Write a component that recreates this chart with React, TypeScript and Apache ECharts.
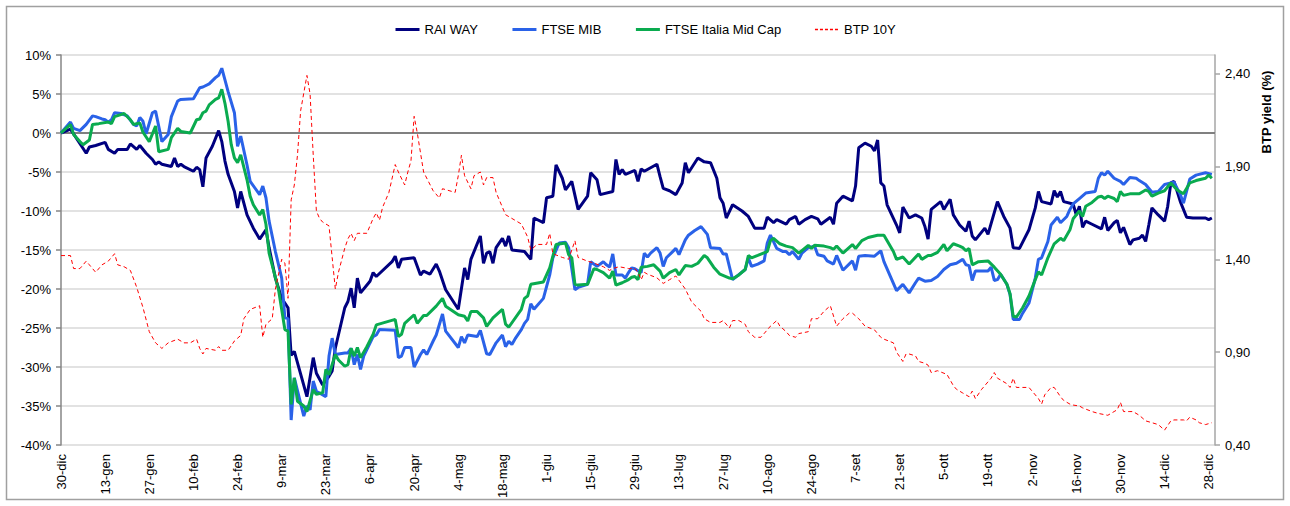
import React, { useEffect, useRef } from 'react';
import * as echarts from 'echarts';

// x values are calendar days counted from 30-dic-2019
const xTickLabels = ['30-dic','13-gen','27-gen','10-feb','24-feb','9-mar','23-mar','6-apr','20-apr','4-mag','18-mag','1-giu','15-giu','29-giu','13-lug','27-lug','10-ago','24-ago','7-set','21-set','5-ott','19-ott','2-nov','16-nov','30-nov','14-dic','28-dic'];
const seriesNames = ['RAI WAY', 'FTSE MIB', 'FTSE Italia Mid Cap', 'BTP 10Y'];

const raiWay: number[][] = [[0,0],[3,0.5],[8,-2.6],[9,-1.8],[11,-1.6],[14,-1.2],[15,-2.1],[17,-2.6],[18,-2.1],[21,-2.1],[22,-1.4],[24,-2.1],[25,-1.6],[27,-2.6],[29,-3.4],[30,-4.0],[31,-3.7],[32,-4.0],[35,-4.3],[36,-3.2],[37,-4.3],[38,-4.0],[39,-4.3],[42,-4.9],[43,-4.4],[44,-4.7],[45,-6.9],[46,-3.2],[48,-1.7],[50,0.3],[51,-1.1],[52,-3.6],[53,-5.3],[55,-7.5],[56,-9.6],[57,-7.5],[59,-10.5],[61,-12.2],[63,-13.6],[65,-12.4],[66,-14.7],[68,-18.6],[70,-21.2],[72,-22.4],[73,-28.5],[74,-28.0],[78,-33.8],[80,-28.8],[81,-30.8],[83,-32.3],[85,-31.2],[86,-30.5],[87,-27.6],[90,-22.4],[91,-21.6],[92,-19.9],[93,-22.4],[94,-18.6],[95,-20.5],[98,-19.0],[99,-17.9],[100,-18.4],[105,-16.5],[106,-15.8],[107,-17.3],[108,-16.2],[112,-16.0],[114,-18.2],[115,-17.7],[117,-18.1],[119,-16.8],[120,-17.7],[122,-20.1],[126,-22.6],[128,-17.3],[129,-18.8],[130,-16.2],[133,-13.2],[134,-16.7],[135,-15.4],[136,-15.2],[137,-16.7],[138,-14.7],[140,-13.5],[141,-14.5],[142,-13.2],[143,-15.0],[147,-15.2],[149,-16.2],[150,-10.9],[153,-11.5],[154,-8.3],[156,-8.1],[157,-4.1],[159,-5.8],[160,-7.3],[162,-6.2],[164,-9.8],[167,-8.1],[168,-5.1],[170,-6.0],[171,-7.9],[175,-7.5],[176,-3.4],[177,-5.3],[178,-4.7],[179,-5.3],[182,-4.8],[183,-6.2],[184,-4.6],[185,-4.9],[189,-4.0],[190,-5.6],[191,-7.1],[193,-7.4],[195,-7.9],[197,-6.4],[198,-3.8],[199,-5.1],[202,-3.2],[204,-3.7],[206,-3.8],[208,-5.8],[209,-8.3],[210,-9.0],[211,-10.9],[213,-9.2],[216,-10.0],[218,-10.7],[220,-12.2],[223,-12.2],[224,-10.8],[226,-11.5],[227,-11.1],[229,-11.5],[230,-11.7],[231,-11.1],[233,-10.7],[234,-11.7],[236,-11.1],[238,-10.7],[240,-11.0],[241,-11.7],[244,-10.8],[245,-11.7],[246,-9.0],[248,-8.1],[251,-8.7],[252,-6.8],[253,-1.9],[255,-1.3],[257,-1.7],[258,-2.3],[259,-0.9],[260,-6.4],[261,-6.8],[262,-9.2],[265,-11.8],[266,-12.8],[267,-9.5],[269,-10.9],[271,-10.5],[273,-10.9],[274,-12.0],[275,-13.6],[276,-9.8],[279,-8.8],[280,-9.8],[282,-8.5],[283,-10.5],[285,-11.8],[287,-12.6],[288,-11.3],[289,-13.2],[290,-13.7],[293,-12.2],[294,-13.0],[297,-8.8],[299,-10.7],[301,-12.2],[302,-14.7],[304,-14.8],[307,-12.4],[309,-9.6],[310,-7.5],[311,-8.8],[314,-9.1],[315,-7.4],[316,-8.2],[317,-7.5],[318,-8.8],[321,-9.1],[322,-10.5],[323,-9.4],[324,-12.1],[325,-11.3],[327,-11.7],[330,-12.3],[331,-10.8],[332,-12.5],[334,-11.5],[335,-11.2],[336,-12.8],[337,-12.1],[339,-14.3],[340,-13.7],[342,-13.5],[343,-13.1],[344,-13.9],[345,-11.8],[346,-9.6],[348,-10.5],[350,-11.3],[351,-9.4],[352,-6.4],[353,-6.2],[355,-8.8],[357,-10.8],[359,-10.9],[361,-10.9],[363,-10.9],[364,-11.1],[365,-10.9]];

const ftseMib: number[][] = [[0,0],[3,1.4],[4,0.6],[6,0.3],[8,1.1],[10,2.2],[11,2.1],[13,1.8],[14,1.7],[15,1.4],[16,1.7],[17,2.6],[19,2.5],[21,2.2],[23,1.1],[24,0.9],[25,2.0],[26,1.5],[27,-0.1],[29,2.6],[30,2.8],[32,-1.1],[34,-0.2],[35,2.1],[37,4.1],[38,4.3],[42,4.4],[44,5.8],[45,5.9],[47,6.3],[49,7.1],[50,7.4],[51,8.3],[52,6.8],[53,5.3],[55,2.6],[56,-1.7],[57,-0.4],[59,-4.1],[60,-6.2],[63,-7.9],[64,-6.8],[65,-8.3],[66,-11.3],[68,-15.2],[70,-18.6],[71,-23.7],[72,-23.8],[73,-36.8],[74,-31.4],[77,-36.3],[78,-35.0],[79,-35.5],[80,-31.8],[81,-33.1],[84,-33.8],[85,-28.6],[86,-26.3],[87,-28.4],[90,-28.2],[91,-28.2],[92,-27.6],[93,-29.7],[94,-28.4],[95,-30.3],[96,-28.6],[99,-26.1],[100,-25.9],[101,-25.2],[106,-25.3],[107,-28.8],[108,-28.6],[109,-27.5],[111,-27.5],[112,-30.0],[114,-28.4],[115,-27.8],[116,-28.4],[118,-26.7],[119,-25.9],[121,-23.2],[122,-25.4],[126,-27.5],[127,-26.1],[128,-26.9],[129,-25.9],[132,-26.1],[133,-25.3],[135,-28.3],[136,-28.4],[138,-26.9],[140,-25.9],[141,-27.4],[142,-26.7],[143,-27.1],[144,-26.4],[146,-25.2],[147,-24.4],[148,-23.9],[149,-21.9],[150,-22.6],[153,-21.2],[155,-18.2],[156,-16.0],[158,-14.1],[160,-14.0],[161,-14.7],[163,-20.1],[164,-19.8],[167,-19.4],[168,-16.5],[170,-17.1],[172,-16.5],[173,-16.9],[174,-17.2],[175,-15.5],[176,-18.2],[178,-18.2],[179,-18.6],[180,-17.9],[181,-17.3],[182,-17.4],[184,-17.9],[185,-15.4],[186,-15.9],[187,-15.4],[189,-14.7],[190,-15.4],[191,-17.1],[192,-16.0],[194,-15.2],[195,-14.8],[196,-15.6],[198,-13.7],[199,-13.1],[201,-12.5],[203,-12.0],[205,-13.0],[206,-14.7],[209,-14.8],[210,-15.5],[211,-15.5],[213,-18.8],[217,-17.5],[218,-16.0],[219,-17.1],[221,-16.8],[223,-16.4],[224,-14.1],[225,-13.1],[227,-14.8],[229,-15.2],[230,-15.2],[231,-15.6],[232,-15.2],[234,-16.2],[235,-15.4],[237,-14.7],[239,-14.5],[240,-15.6],[242,-15.8],[243,-16.4],[245,-16.8],[246,-15.7],[248,-17.6],[251,-16.4],[252,-17.6],[253,-15.8],[255,-15.7],[258,-15.8],[260,-15.1],[261,-16.5],[265,-20.2],[267,-19.4],[269,-20.5],[271,-19.2],[272,-18.6],[274,-19.0],[276,-18.9],[278,-18.4],[280,-17.5],[282,-16.9],[284,-16.7],[286,-16.2],[287,-16.9],[288,-17.0],[289,-18.9],[290,-17.7],[294,-17.7],[295,-17.2],[296,-18.9],[297,-18.8],[298,-18.1],[300,-19.4],[301,-20.7],[302,-23.9],[304,-23.9],[305,-23.1],[307,-21.8],[309,-18.6],[310,-16.2],[311,-16.0],[313,-13.9],[314,-11.8],[316,-10.8],[317,-11.5],[319,-10.7],[320,-9.8],[321,-9.1],[323,-8.4],[325,-7.7],[328,-7.5],[329,-5.8],[330,-5.1],[331,-5.4],[332,-4.9],[334,-5.8],[336,-6.2],[337,-6.6],[339,-5.7],[341,-5.8],[342,-6.1],[344,-6.6],[346,-7.6],[348,-7.5],[350,-6.6],[353,-6.3],[355,-7.9],[356,-9.0],[358,-5.9],[360,-5.4],[363,-5.1],[365,-5.3]];

const ftseMidCap: number[][] = [[0,0],[3,1.1],[4,-0.2],[6,-1.1],[7,-1.5],[9,-0.9],[10,1.1],[12,1.2],[15,1.4],[16,1.2],[17,2.1],[20,2.5],[22,1.7],[23,1.1],[25,1.3],[26,0.1],[28,-1.1],[30,0.9],[31,-2.4],[34,-2.1],[35,-0.6],[37,0.6],[38,0.2],[41,0.0],[43,1.7],[44,1.8],[45,2.6],[46,2.8],[47,3.6],[49,4.3],[50,4.5],[51,5.6],[52,3.8],[53,1.5],[54,-1.5],[55,-3.2],[56,-3.8],[57,-2.8],[59,-6.0],[60,-8.1],[61,-9.2],[63,-10.5],[64,-9.8],[65,-11.7],[66,-15.4],[69,-20.1],[71,-25.2],[72,-25.4],[73,-34.8],[74,-31.4],[75,-34.4],[77,-35.0],[78,-35.7],[80,-32.9],[81,-33.5],[83,-33.3],[84,-30.3],[85,-31.0],[87,-28.4],[88,-29.1],[90,-29.9],[91,-29.7],[92,-27.6],[93,-28.6],[94,-27.5],[95,-28.8],[97,-27.4],[99,-25.8],[100,-24.6],[106,-23.9],[107,-26.1],[108,-25.8],[109,-24.4],[112,-23.3],[113,-24.4],[115,-23.4],[116,-23.4],[119,-22.2],[121,-21.2],[122,-22.2],[126,-23.3],[128,-23.5],[129,-24.1],[130,-22.9],[132,-22.9],[134,-23.7],[135,-24.8],[137,-23.7],[140,-22.6],[141,-24.5],[142,-24.9],[146,-22.6],[147,-21.2],[148,-20.9],[149,-19.4],[153,-19.1],[155,-17.3],[156,-15.8],[157,-14.3],[160,-14.1],[161,-15.6],[162,-16.0],[163,-19.4],[164,-19.5],[167,-19.4],[169,-17.4],[170,-17.5],[172,-17.9],[174,-18.6],[175,-17.7],[176,-19.5],[178,-19.2],[180,-18.8],[181,-18.5],[182,-18.4],[183,-18.8],[184,-17.2],[186,-17.1],[188,-16.9],[190,-17.7],[191,-18.6],[193,-17.9],[195,-17.5],[196,-18.2],[198,-17.0],[200,-17.1],[202,-16.7],[204,-15.7],[205,-16.0],[207,-17.2],[209,-18.1],[212,-18.6],[213,-18.7],[215,-18.2],[217,-17.5],[218,-15.7],[219,-16.0],[221,-15.7],[224,-15.2],[225,-13.8],[226,-13.5],[228,-14.2],[230,-14.5],[232,-14.7],[234,-15.4],[237,-14.4],[238,-14.8],[239,-14.4],[242,-14.5],[244,-14.7],[245,-14.9],[246,-14.5],[248,-15.4],[251,-14.3],[252,-14.8],[254,-13.8],[256,-13.4],[259,-13.1],[261,-13.1],[264,-15.2],[265,-16.2],[267,-15.9],[269,-16.8],[272,-15.5],[273,-16.2],[275,-15.7],[276,-15.7],[278,-15.3],[280,-14.3],[281,-15.1],[283,-14.2],[285,-14.5],[286,-14.7],[287,-15.1],[288,-14.8],[289,-16.9],[291,-16.5],[294,-16.4],[296,-17.2],[298,-18.1],[300,-19.4],[301,-20.6],[302,-23.5],[303,-23.6],[305,-22.4],[307,-20.9],[309,-18.8],[310,-17.8],[311,-18.2],[313,-16.0],[315,-14.2],[317,-13.5],[318,-13.8],[320,-12.4],[321,-11.0],[323,-10.0],[324,-10.7],[325,-9.4],[327,-8.9],[329,-8.2],[330,-8.1],[331,-8.4],[332,-8.1],[334,-8.4],[335,-8.8],[336,-7.5],[337,-8.0],[339,-7.8],[342,-7.8],[344,-7.3],[345,-7.5],[346,-8.1],[348,-7.7],[350,-7.4],[352,-6.4],[354,-7.3],[356,-7.8],[358,-6.4],[360,-6.1],[363,-5.8],[364,-5.4],[365,-5.8]];

const btp10y: number[][] = [[0,1.42],[3,1.42],[4,1.35],[6,1.35],[8,1.39],[9,1.37],[11,1.33],[13,1.37],[15,1.39],[17,1.43],[18,1.37],[20,1.36],[22,1.34],[24,1.25],[26,1.14],[28,1.01],[30,0.95],[32,0.92],[34,0.95],[37,0.97],[39,0.95],[41,0.95],[43,0.97],[44,0.92],[45,0.89],[46,0.92],[49,0.91],[50,0.93],[51,0.91],[53,0.91],[55,0.96],[57,0.99],[58,1.08],[60,1.13],[63,1.15],[64,0.98],[65,1.05],[67,1.08],[68,1.24],[70,1.40],[71,1.38],[72,1.19],[73,1.72],[74,1.80],[75,1.96],[76,2.20],[78,2.39],[79,2.29],[80,1.96],[81,1.66],[82,1.62],[83,1.60],[85,1.58],[86,1.41],[87,1.24],[88,1.33],[90,1.46],[91,1.51],[92,1.54],[93,1.50],[94,1.54],[97,1.54],[99,1.62],[100,1.65],[101,1.61],[102,1.68],[104,1.76],[106,1.91],[107,1.87],[109,1.80],[110,1.87],[111,1.93],[112,2.17],[113,2.08],[115,1.87],[118,1.77],[120,1.73],[121,1.78],[125,1.76],[126,1.85],[127,1.96],[128,1.85],[130,1.78],[131,1.85],[133,1.87],[134,1.80],[135,1.84],[137,1.84],[138,1.76],[140,1.68],[141,1.64],[144,1.61],[146,1.59],[148,1.52],[149,1.45],[151,1.48],[154,1.48],[155,1.54],[156,1.43],[159,1.41],[161,1.40],[163,1.50],[164,1.41],[167,1.39],[169,1.38],[172,1.36],[174,1.34],[175,1.35],[177,1.36],[180,1.35],[182,1.35],[183,1.33],[184,1.29],[185,1.33],[186,1.32],[189,1.30],[191,1.27],[193,1.29],[195,1.31],[198,1.24],[200,1.17],[203,1.12],[204,1.08],[206,1.06],[208,1.06],[209,1.06],[210,1.07],[212,1.03],[213,1.07],[215,1.07],[217,1.05],[218,1.01],[220,0.98],[222,0.98],[223,1.00],[225,1.04],[227,1.07],[228,1.04],[230,1.01],[231,0.99],[233,0.98],[234,1.00],[237,1.01],[238,1.08],[240,1.08],[242,1.12],[244,1.15],[246,1.04],[248,1.08],[250,1.11],[251,1.11],[253,1.08],[255,1.04],[258,1.02],[260,0.98],[261,0.97],[264,0.95],[265,0.90],[267,0.85],[268,0.89],[269,0.89],[271,0.88],[272,0.85],[274,0.84],[275,0.83],[276,0.79],[278,0.80],[281,0.78],[283,0.72],[284,0.70],[286,0.68],[288,0.66],[289,0.69],[290,0.65],[292,0.70],[295,0.76],[296,0.79],[297,0.76],[300,0.73],[301,0.71],[302,0.76],[303,0.71],[305,0.71],[307,0.71],[310,0.65],[311,0.62],[312,0.67],[314,0.71],[315,0.71],[317,0.66],[318,0.64],[320,0.62],[321,0.615],[323,0.61],[324,0.60],[327,0.58],[329,0.57],[332,0.56],[334,0.58],[335,0.59],[336,0.63],[337,0.58],[339,0.58],[340,0.58],[342,0.56],[344,0.53],[346,0.52],[348,0.51],[350,0.48],[352,0.53],[353,0.535],[356,0.535],[357,0.53],[358,0.55],[360,0.535],[361,0.52],[363,0.51],[365,0.52]];

const FONT = "'Liberation Sans', Arial, sans-serif";
const COLORS = ['#00007f', '#2a62e8', '#0aab4f', '#ff0000'];

export default function App() {
  const ref = useRef<HTMLDivElement>(null);
  useEffect(() => {
    if (!ref.current) return;
    const chart = echarts.init(ref.current, null, { renderer: 'svg' });
    const labelMap: Record<number, string> = {};
    xTickLabels.forEach((l, i) => { labelMap[i * 14] = l; });
    const hiddenSymbol = { opacity: 0, borderWidth: 0 };
    chart.setOption({
      animation: false,
      backgroundColor: '#ffffff',
      textStyle: { fontFamily: FONT },
      legend: {
        top: 18,
        left: 'center',
        itemWidth: 24,
        itemHeight: 14,
        itemGap: 33,
        textStyle: { fontSize: 13, color: '#000', fontFamily: FONT },
        data: [
          { name: seriesNames[0], itemStyle: hiddenSymbol, lineStyle: { width: 3, color: COLORS[0], opacity: 1 } },
          { name: seriesNames[1], itemStyle: hiddenSymbol, lineStyle: { width: 3, color: COLORS[1], opacity: 1 } },
          { name: seriesNames[2], itemStyle: hiddenSymbol, lineStyle: { width: 3, color: COLORS[2], opacity: 1 } },
          { name: seriesNames[3], itemStyle: hiddenSymbol, lineStyle: { width: 1.5, color: COLORS[3], opacity: 1, type: [3, 2] } },
        ],
      },
      grid: { left: 61, right: 75, top: 55, bottom: 61, containLabel: false },
      xAxis: {
        type: 'value',
        min: 0,
        max: 366,
        interval: 14,
        axisLine: { show: true, lineStyle: { color: '#d9d9d9', width: 1 } },
        axisTick: { show: false },
        splitLine: { show: false },
        axisLabel: {
          rotate: 90,
          margin: 9,
          fontSize: 13,
          color: '#000',
          fontFamily: FONT,
          showMaxLabel: false,
          formatter: (v: number) => labelMap[Math.round(v)] ?? '',
        },
      },
      yAxis: [
        {
          type: 'value',
          min: -40,
          max: 10,
          interval: 5,
          position: 'left',
          axisLine: { show: true, lineStyle: { color: '#868686', width: 1.5 } },
          axisTick: { show: true, length: 5, lineStyle: { color: '#868686', width: 1.5 } },
          splitLine: { show: true, lineStyle: { color: '#d9d9d9', width: 1.5 } },
          axisLabel: { formatter: '{value}%', fontSize: 13, color: '#000', margin: 10, fontFamily: FONT },
        },
        {
          type: 'value',
          min: 0.4,
          max: 2.5,
          interval: 0.5,
          position: 'right',
          axisLine: { show: true, lineStyle: { color: '#a6a6a6', width: 1.5 } },
          axisTick: { show: true, length: 5, lineStyle: { color: '#a6a6a6', width: 1.5 } },
          splitLine: { show: false },
          axisLabel: {
            fontSize: 13,
            color: '#000',
            margin: 10,
            fontFamily: FONT,
            showMaxLabel: false,
            formatter: (v: number) => (Math.abs(v - 2.5) < 1e-6 ? '' : v.toFixed(2).replace('.', ',')),
          },
        },
      ],
      graphic: [
        {
          type: 'rect',
          shape: { x: 6.5, y: 6.5, width: 1277, height: 493 },
          style: { fill: 'none', stroke: '#a0a0a0', lineWidth: 1.5 },
          silent: true,
        },
        {
          type: 'text',
          x: 1266,
          y: 112,
          rotation: Math.PI / 2,
          style: {
            text: 'BTP yield (%)',
            font: `bold 13px ${FONT}`,
            fill: '#000',
            align: 'center',
            verticalAlign: 'middle',
            textAlign: 'center',
            textVerticalAlign: 'middle',
          },
        },
      ],
      series: [
        {
          name: seriesNames[0],
          type: 'line',
          yAxisIndex: 0,
          data: raiWay,
          symbol: 'none',
          lineStyle: { color: COLORS[0], width: 3 },
          itemStyle: { color: COLORS[0] },
          z: 3,
          markLine: {
            silent: true,
            symbol: 'none',
            label: { show: false },
            lineStyle: { color: '#808080', width: 2, type: 'solid' },
            data: [{ yAxis: 0 }],
            z: 1,
          },
        },
        {
          name: seriesNames[1],
          type: 'line',
          yAxisIndex: 0,
          data: ftseMib,
          symbol: 'none',
          lineStyle: { color: COLORS[1], width: 3 },
          itemStyle: { color: COLORS[1] },
          z: 3,
        },
        {
          name: seriesNames[2],
          type: 'line',
          yAxisIndex: 0,
          data: ftseMidCap,
          symbol: 'none',
          lineStyle: { color: COLORS[2], width: 3 },
          itemStyle: { color: COLORS[2] },
          z: 3,
        },
        {
          name: seriesNames[3],
          type: 'line',
          yAxisIndex: 1,
          data: btp10y,
          symbol: 'none',
          lineStyle: { color: COLORS[3], width: 1, type: [4, 3] },
          itemStyle: { color: COLORS[3] },
          z: 4,
        },
      ],
    });
    return () => chart.dispose();
  }, []);
  return (
    <div
      ref={ref}
      style={{ position: 'fixed', left: 0, top: 0, width: 1290, height: 506, background: '#fff' }}
    />
  );
}
